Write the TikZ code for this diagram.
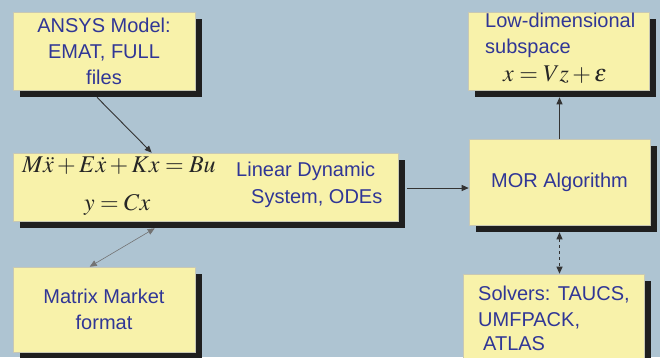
\documentclass[tikz,border=0pt]{standalone}
\usepackage{mathptmx}
\usepackage{fontspec}
\setmainfont{Liberation Sans}
\usetikzlibrary{shadows,arrows.meta,calc}
\definecolor{bgc}{RGB}{174,196,210}
\definecolor{boxc}{RGB}{248,242,170}
\definecolor{edgec}{RGB}{200,200,180}
\definecolor{txtc}{RGB}{48,54,150}
\tikzset{
  box/.style={draw=edgec, line width=0.6pt, fill=boxc, inner sep=0pt, align=center,
    text=txtc, font=\fontsize{20}{26}\selectfont,
    drop shadow={shadow xshift=7pt, shadow yshift=-7pt, fill=black!88, opacity=1}},
  lbl/.style={text=txtc, font=\fontsize{20}{26}\selectfont, inner sep=0pt, anchor=base west},
  eq/.style={text=black!85, font=\fontsize{24}{28}\selectfont, inner sep=0pt, anchor=base west},
  conn/.style={draw=black!80, line width=0.9pt, -{Triangle[length=7pt,width=6pt]}},
  tip/.style={Triangle[length=7pt,width=6pt]}
}
\begin{document}
\begin{tikzpicture}[x=1pt,y=-1pt]
\fill[bgc] (0,0) rectangle (660,357);
\useasboundingbox (0,0) rectangle (660,357);
\clip (0,0) rectangle (660,357);
% boxes
\node[box, minimum width=182pt, minimum height=78pt] (ansys) at (104,51)
  {ANSYS Model:\\EMAT, FULL\\files};
\node[box, minimum width=385pt, minimum height=68pt] (lin) at (205.5,187) {};
\node[box, minimum width=182pt, minimum height=85pt] (mm) at (104,309.5)
  {Matrix Market\\format};
\node[box, minimum width=181pt, minimum height=78pt] (low) at (558.5,51) {};
\node[box, minimum width=181pt, minimum height=86pt] (mor) at (559.5,182) {MOR Algorithm};
\node[box, minimum width=181pt, minimum height=100pt] (sol) at (553.5,324) {};
% texts
\node[eq] (eq1) at (22,172) {$M\ddot{x}+E\dot{x}+Kx=Bu$};
\node[eq] (eq2) at (84,210) {$y=Cx$};
\node[lbl] (ld1) at (236,176) {Linear Dynamic};
\node[lbl] (ld2) at (251,203) {System, ODEs};
\node[lbl] (lw1) at (485,27) {Low-dimensional};
\node[lbl] (lw2) at (485,53) {subspace};
\node[eq] (lw3) at (503,81) {$x=Vz+\epsilon$};
\node[lbl] (s1) at (478,300) {Solvers: TAUCS,};
\node[lbl] (s2) at (478,326) {UMFPACK,};
\node[lbl] (s3) at (483,350) {ATLAS};
% connectors
\draw[conn] ($(ansys.south)+(-7,7)$) -- ($(lin.north west)+(139,0)$);
\draw[draw=black!55, line width=0.6pt, {Triangle[length=7pt,width=6pt]}-{Triangle[length=7pt,width=6pt]}]
  ($(mm.north west)+(77,0)$) -- ($(lin.south west)+(142,7)$);
\draw[conn] ($(lin.east)+(9,1)$) -- ($(mor.west)+(0,6)$);
\draw[conn] (mor.north) -- ($(mor.north |- low.south)+(0,7)$);
\draw[draw=black!80, line width=0.9pt, dashed, {Triangle[length=7pt,width=6pt]}-{Triangle[length=7pt,width=6pt]}]
  ($(mor.south)+(0,7)$) -- (mor.south |- sol.north);
\end{tikzpicture}
\end{document}
